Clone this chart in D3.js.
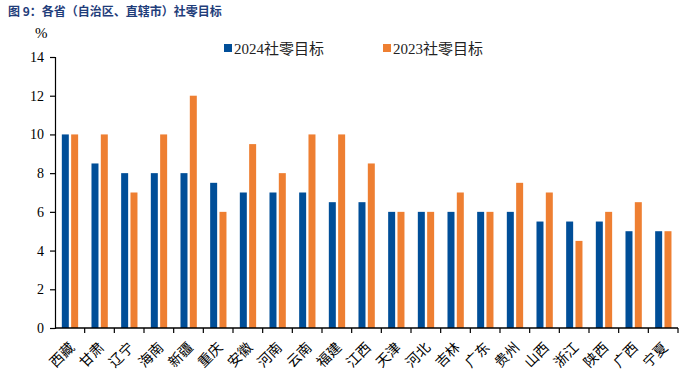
<!DOCTYPE html>
<html>
<head>
<meta charset="utf-8">
<script src="https://cdn.jsdelivr.net/npm/d3@7"></script>
<style>
  body { margin: 0; background: #fff; }
  svg { display: block; }
</style>
</head>
<body>
<div id="svg-container"></div>
<script>
// provinces and retail sales growth targets (%)
var provinces = ["西藏", "甘肃", "辽宁", "海南", "新疆", "重庆", "安徽", "河南", "云南", "福建", "江西",
	"天津", "河北", "吉林", "广东", "贵州", "山西", "浙江", "陕西", "广西", "宁夏"];
var target2024 = [10, 8.5, 8, 8, 8, 7.5, 7, 7, 7, 6.5, 6.5, 6, 6, 6, 6, 6, 5.5, 5.5, 5.5, 5, 5];
var target2023 = [10, 10, 7, 10, 12, 6, 9.5, 8, 10, 10, 8.5, 6, 6, 7, 6, 7.5, 7, 4.5, 6, 6.5, 5];
var yTicks = [0, 2, 4, 6, 8, 10, 12, 14];
var seriesNames = ["2024社零目标", "2023社零目标"];
var colors = ["#004e98", "#ee7f32"];

var W = 700, H = 376;
var margin = {left: 55, right: 22, top: 57, bottom: 48};

var svg = d3.select("#svg-container").append("svg")
	.attr("width", W)
	.attr("height", H);

// title
svg.append("text")
	.attr("x", 8)
	.attr("y", 16)
	.style("font-family", "'Noto Sans CJK SC', sans-serif")
	.style("font-weight", "bold")
	.style("font-size", "12px")
	.style("fill", "#1f3d7a")
	.text("图 9：各省（自治区、直辖市）社零目标");

var x = d3.scaleBand()
	.domain(provinces)
	.range([margin.left, W - margin.right])
	.paddingInner(0)
	.paddingOuter(0);

var inner = d3.scaleBand()
	.domain([0, 1])
	.range([x.bandwidth() * 0.23, x.bandwidth() * 0.78])
	.paddingInner(0.25);

var y = d3.scaleLinear()
	.domain([0, 14])
	.range([H - margin.bottom, margin.top]);

// bars
var groups = svg.append("g").selectAll("g")
	.data(provinces)
	.enter()
	.append("g")
	.attr("transform", function(d){ return "translate(" + x(d) + ",0)"; });

groups.selectAll("rect")
	.data(function(d, i){ return [target2024[i], target2023[i]]; })
	.enter()
	.append("rect")
	.attr("x", function(d, j){ return inner(j); })
	.attr("width", inner.bandwidth())
	.attr("y", function(d){ return y(d); })
	.attr("height", function(d){ return y(0) - y(d); })
	.attr("fill", function(d, j){ return colors[j]; });

// y axis
var yAxis = svg.append("g")
	.attr("transform", "translate(" + margin.left + ",0)")
	.call(d3.axisLeft(y).tickValues(yTicks).tickSize(5).tickPadding(6));
yAxis.selectAll("text").style("font-size", "14px").style("fill", "#000")
	.style("font-family", "'Liberation Serif', serif");
yAxis.selectAll("line, path").attr("stroke", "#000").attr("stroke-width", 1.2);

// x axis, ticks at band boundaries
var xAxisG = svg.append("g")
	.attr("transform", "translate(0," + y(0) + ")");
xAxisG.append("line")
	.attr("x1", margin.left)
	.attr("x2", W - margin.right)
	.attr("stroke", "#000")
	.attr("stroke-width", 1.5);
var bounds = provinces.map(function(d){ return x(d) + x.bandwidth(); });
xAxisG.selectAll(".xt")
	.data(bounds)
	.enter()
	.append("line")
	.attr("x1", function(d){ return d; })
	.attr("x2", function(d){ return d; })
	.attr("y1", 0)
	.attr("y2", 5)
	.attr("stroke", "#000")
	.attr("stroke-width", 1.2);

xAxisG.selectAll(".xl")
	.data(provinces)
	.enter()
	.append("text")
	.attr("text-anchor", "end")
	.attr("transform", function(d){
		return "translate(" + (x(d) + x.bandwidth() / 2 + 2) + ",17) rotate(-45)";
	})
	.style("font-family", "'Noto Sans CJK SC', serif")
	.style("font-size", "14px")
	.style("fill", "#000")
	.attr("dy", "0.35em")
	.text(function(d){ return d; });

// unit
svg.append("text")
	.attr("x", 35)
	.attr("y", 38)
	.style("font-family", "'Liberation Serif', serif")
	.style("font-size", "15px")
	.text("%");

// legend
var legendX = [224, 383];
var legend = svg.append("g").selectAll("g")
	.data(seriesNames)
	.enter()
	.append("g")
	.attr("transform", function(d, i){ return "translate(" + legendX[i] + ",49)"; });
legend.append("rect")
	.attr("x", 0)
	.attr("y", -5)
	.attr("width", 8)
	.attr("height", 8)
	.attr("fill", function(d, i){ return colors[i]; });
legend.append("text")
	.attr("x", 10)
	.attr("y", 5)
	.style("font-family", "'Liberation Serif', 'Noto Sans CJK SC', serif")
	.style("font-size", "15px")
	.style("fill", "#222")
	.text(function(d){ return d; });
</script>
</body>
</html>
